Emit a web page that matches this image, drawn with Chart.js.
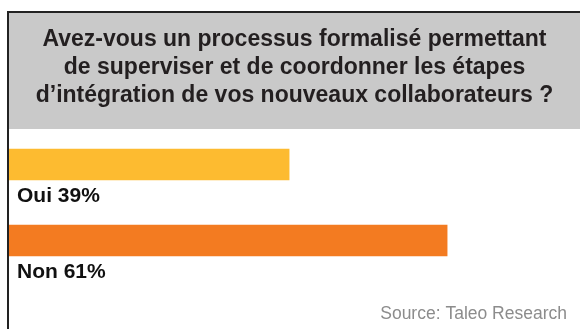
<!DOCTYPE html>
<html>
<head>
<meta charset="utf-8">
<script src="https://cdn.jsdelivr.net/npm/chart.js@4/dist/chart.umd.min.js"></script>
<style>
html,body{margin:0;padding:0;background:#fff;}
#wrap{width:580px;height:329px;position:relative;}
</style>
</head>
<body>
<div id="wrap"><canvas id="c" width="580" height="329"></canvas></div>
<script>
const titleLines = [
  "Avez-vous un processus formalisé permettant",
  "de superviser et de coordonner les étapes",
  "d\u2019intégration de vos nouveaux collaborateurs ?"
];
const categories = ["Oui", "Non"];
const values = [39, 61];
const barColors = ["#FDBB30", "#F37B21"];
const sourceText = "Source: Taleo Research";

const framePlugin = {
  id: 'frame',
  beforeDraw(chart) {
    const ctx = chart.ctx;
    const tb = chart.titleBlock;
    ctx.save();
    ctx.fillStyle = '#fff';
    ctx.fillRect(0, 0, chart.width, chart.height);
    ctx.fillStyle = '#c9c9c9';
    ctx.fillRect(tb.left, tb.top + 1, chart.width - tb.left, tb.height + 1.5);
    ctx.strokeStyle = '#222';
    ctx.lineWidth = 2;
    ctx.beginPath();
    ctx.moveTo(chart.width, tb.top);
    ctx.lineTo(tb.left - 1, tb.top);
    ctx.lineTo(tb.left - 1, chart.height);
    ctx.stroke();
    ctx.restore();
  },
  afterDatasetsDraw(chart) {
    const ctx = chart.ctx;
    const meta = chart.getDatasetMeta(0);
    ctx.save();
    ctx.fillStyle = '#111';
    ctx.font = 'bold 21px "Liberation Sans", Arial, sans-serif';
    ctx.textBaseline = 'alphabetic';
    ctx.textAlign = 'left';
    meta.data.forEach((bar, i) => {
      ctx.fillText(categories[i] + ' ' + values[i] + '%', chart.chartArea.left + 8, bar.y + 37);
    });
    ctx.fillStyle = '#8c8c8c';
    ctx.font = '17.5px "Liberation Sans", Arial, sans-serif';
    ctx.textAlign = 'right';
    ctx.textBaseline = 'middle';
    ctx.fillText(sourceText, chart.width - 13, chart.height - 15);
    ctx.restore();
  }
};

new Chart(document.getElementById('c'), {
  type: 'bar',
  data: {
    labels: categories,
    datasets: [{
      data: values,
      backgroundColor: barColors,
      borderWidth: 0,
      barThickness: 31
    }]
  },
  options: {
    indexAxis: 'y',
    responsive: false,
    animation: false,
    events: [],
    layout: { padding: { top: 12, left: 9, right: 0, bottom: 50.5 } },
    plugins: {
      legend: { display: false },
      tooltip: { enabled: false },
      title: {
        display: true,
        text: titleLines,
        color: '#231f20',
        font: { family: '"Liberation Sans", Arial, sans-serif', size: 23, weight: 'bold', lineHeight: '28px' },
        padding: { top: 14, bottom: 16.5 }
      }
    },
    scales: {
      x: { display: false, min: 0, max: 79.5 },
      y: { display: false }
    }
  },
  plugins: [framePlugin]
});
</script>
</body>
</html>
